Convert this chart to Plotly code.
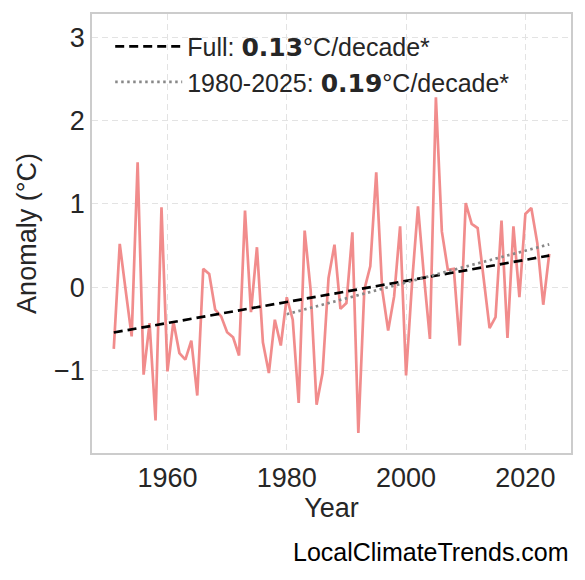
import numpy as np
import plotly.graph_objects as go

years = list(range(1951, 2025))
anomaly = [
    -0.74, 0.52, -0.04, -0.59, 1.50, -1.05, -0.43, -1.60, 0.96, -1.01,
    -0.41, -0.79, -0.87, -0.64, -1.30, 0.22, 0.16, -0.27, -0.35, -0.54,
    -0.60, -0.82, 0.92, -0.30, 0.48, -0.66, -1.03, -0.39, -0.70, -0.12,
    -0.39, -1.39, 0.68, -0.03, -1.41, -1.03, 0.11, 0.51, -0.26, -0.19,
    0.66, -1.75, -0.03, 0.25, 1.38, -0.03, -0.52, -0.11, 0.73, -1.06,
    0.05, 0.97, 0.13, -0.62, 2.28, 0.67, 0.21, 0.22, -0.70, 1.01,
    0.76, 0.71, 0.11, -0.49, -0.36, 0.80, -0.61, 0.73, -0.12, 0.88,
    0.95, 0.53, -0.21, 0.40,
]
recent_start = 1980
full_label = 'Full: <span style="font-family:DejaVu Sans"><b>0.13</b></span>°C/decade*'
recent_label = '1980-2025: <span style="font-family:DejaVu Sans"><b>0.19</b></span>°C/decade*'
x_ticks = [1960, 1980, 2000, 2020]
y_ticks = [-1, 0, 1, 2, 3]

yrs = np.array(years, dtype=float)
vals = np.array(anomaly, dtype=float)
p_full = np.polyfit(yrs, vals, 1)
mask = yrs >= recent_start
p_rec = np.polyfit(yrs[mask], vals[mask], 1)

fig = go.Figure()
fig.add_trace(go.Scatter(
    x=years, y=anomaly, mode="lines", showlegend=False,
    line=dict(color="rgba(240,128,128,0.9)", width=2.7),
))
fig.add_trace(go.Scatter(
    x=years, y=list(np.polyval(p_full, yrs)), mode="lines", name=full_label,
    line=dict(color="black", width=2.7, dash="9px,5px"),
))
fig.add_trace(go.Scatter(
    x=list(yrs[mask]), y=list(np.polyval(p_rec, yrs[mask])), mode="lines",
    name=recent_label,
    line=dict(color="#888888", width=2.7, dash="2.5px,3.5px"),
))

font_main = "Liberation Sans, Arial, sans-serif"
axis_common = dict(
    showgrid=True, gridcolor="#e3e3e3", griddash="6px,4px", gridwidth=1,
    zeroline=False, showline=True, linecolor="#cccccc", linewidth=1.5,
    mirror=True, ticks="", automargin=False,
    tickfont=dict(family=font_main, size=27, color="#262626"),
)
fig.update_layout(
    width=577, height=572,
    margin=dict(l=84, r=14, t=6, b=127),
    paper_bgcolor="white", plot_bgcolor="white",
    font=dict(family=font_main, color="#262626"),
    xaxis=dict(
        range=[1947.35, 2027.65], tickvals=x_ticks,
        title=dict(text="Year", font=dict(size=27, color="#262626"), standoff=2),
        **axis_common,
    ),
    yaxis=dict(
        range=[-1.99, 3.28], tickvals=y_ticks,
        ticktext=["\u22121", "0", "1", "2", "3"],
        title=dict(text="Anomaly (°C)", font=dict(size=27, color="#262626"), standoff=10),
        **axis_common,
    ),
    legend=dict(
        x=0.038, y=0.978, xanchor="left", yanchor="top",
        bgcolor="rgba(0,0,0,0)", font=dict(size=25, color="#262626"),
        tracegroupgap=0, itemwidth=67,
    ),
    annotations=[dict(
        text="LocalClimateTrends.com", xref="paper", yref="paper",
        x=1, y=0, xanchor="right", yanchor="middle", xshift=0, yshift=-99,
        showarrow=False, font=dict(family=font_main, size=25, color="black"),
    )],
)
fig.write_html("out.html")
